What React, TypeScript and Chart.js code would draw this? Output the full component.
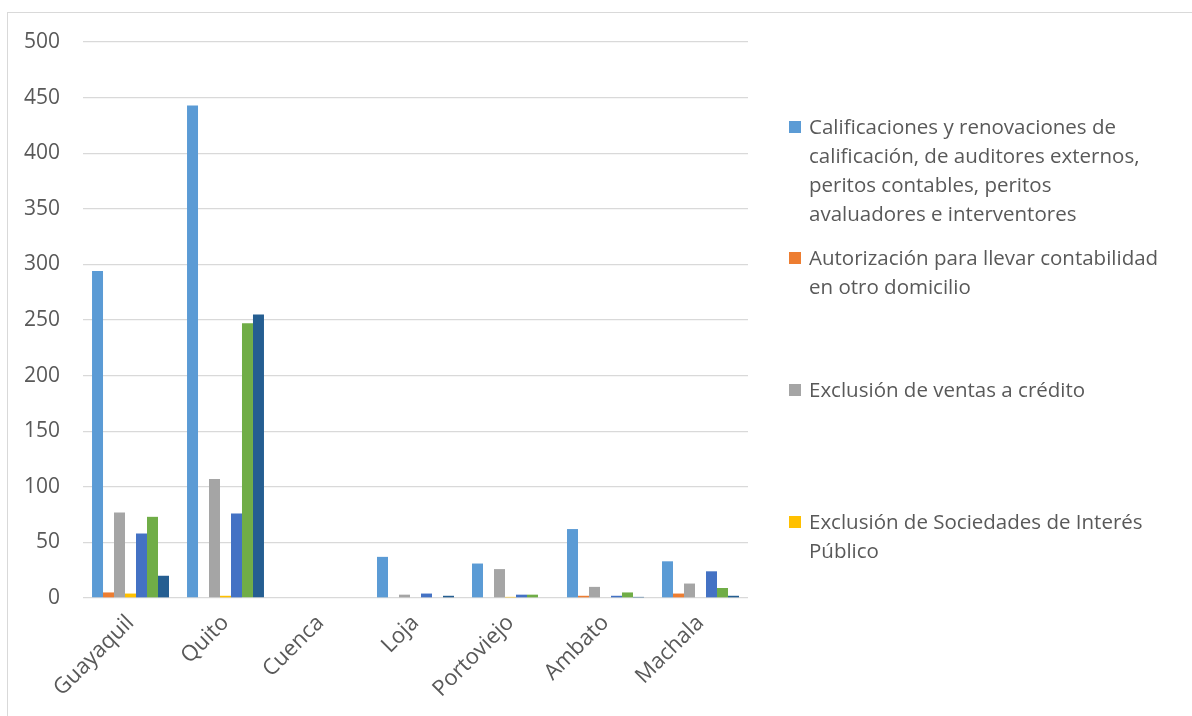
import React, { useEffect, useRef } from "react";
import { Chart, registerables } from "chart.js";

Chart.register(...registerables);

const cities = ["Guayaquil", "Quito", "Cuenca", "Loja", "Portoviejo", "Ambato", "Machala"];

const calificaciones = [294, 443, 0, 37, 31, 62, 33];
const autorizacion = [5, 0, 0, 0, 0, 2, 4];
const exclusionVentas = [77, 107, 0, 3, 26, 10, 13];
const exclusionSociedades = [4, 2, 0, 0, 1, 0, 0];
const serie5 = [58, 76, 0, 4, 3, 2, 24];
const serie6 = [73, 247, 0, 0, 3, 5, 9];
const serie7 = [20, 255, 0, 2, 0, 1, 2];

const seriesNames = [
  "Calificaciones y renovaciones de calificación, de auditores externos, peritos contables, peritos avaluadores e interventores",
  "Autorización para llevar contabilidad en otro domicilio",
  "Exclusión de ventas a crédito",
  "Exclusión de Sociedades de Interés Público",
  "Serie 5",
  "Serie 6",
  "Serie 7",
];

const legendLines = [
  ["Calificaciones y renovaciones de", "calificación, de auditores externos,", "peritos contables, peritos", "avaluadores e interventores"],
  ["Autorización para llevar contabilidad", "en otro domicilio"],
  ["Exclusión de ventas a crédito"],
  ["Exclusión de Sociedades de Interés", "Público"],
];

const yTicks = [0, 50, 100, 150, 200, 250, 300, 350, 400, 450, 500];

const colors = ["#5B9BD5", "#ED7D31", "#A5A5A5", "#FFC000", "#4472C4", "#70AD47", "#255E91"];

const FONT = "'Open Sans', 'Noto Sans', sans-serif";
const TEXT = "#595959";

export default function App() {
  const ref = useRef<HTMLCanvasElement | null>(null);

  useEffect(() => {
    if (!ref.current) return;
    const values = [calificaciones, autorizacion, exclusionVentas, exclusionSociedades, serie5, serie6, serie7];
    const chart = new Chart(ref.current, {
      type: "bar",
      data: {
        labels: cities,
        datasets: values.map((v, i) => ({
          label: seriesNames[i],
          data: v,
          backgroundColor: colors[i],
          borderWidth: 0,
          categoryPercentage: 0.81,
          barPercentage: 1,
        })),
      },
      options: {
        animation: false,
        responsive: false,
        maintainAspectRatio: false,
        layout: { padding: { left: 0, top: 42, right: 444, bottom: 0 } },
        plugins: { legend: { display: false }, tooltip: { enabled: false } },
        scales: {
          x: {
            grid: { display: false },
            border: { display: false },
            ticks: {
              color: TEXT,
              font: { family: FONT, size: 22 },
              minRotation: 45,
              maxRotation: 45,
              padding: 4,
            },
            afterFit: (s: any) => {
              s.height = 118;
            },
          },
          y: {
            min: 0,
            max: 500,
            afterBuildTicks: (s: any) => {
              s.ticks = yTicks.map((v) => ({ value: v }));
            },
            grid: { color: "#d9d9d9", lineWidth: 1.3, drawTicks: false },
            border: { display: false },
            ticks: {
              color: TEXT,
              font: { family: FONT, size: 21 },
              padding: 23,
            },
            afterFit: (s: any) => {
              s.width = 83;
            },
          },
        },
      },
    });
    return () => chart.destroy();
  }, []);

  const legendTops = [112, 243, 375, 507];

  return (
    <div style={{ position: "fixed", left: 0, top: 0, width: 1192, height: 716, background: "#fff", overflow: "hidden" }}>
      <div
        style={{
          position: "absolute",
          left: 7,
          top: 12,
          width: 1200,
          height: 720,
          borderTop: "1.5px solid #d9d9d9",
          borderLeft: "1.5px solid #d9d9d9",
          boxSizing: "border-box",
        }}
      />
      <canvas ref={ref} width={1192} height={716} style={{ position: "absolute", left: 0, top: 0, width: 1192, height: 716 }} />
      {legendLines.map((lines, i) => (
        <div key={i} style={{ position: "absolute", left: 789, top: legendTops[i], fontFamily: FONT, fontSize: 20.5, color: TEXT, lineHeight: "29px" }}>
          <div style={{ position: "absolute", left: 0, top: 9, width: 12, height: 12, background: colors[i] }} />
          <div style={{ marginLeft: 20, whiteSpace: "nowrap" }}>
            {lines.map((l, j) => (
              <div key={j}>{l}</div>
            ))}
          </div>
        </div>
      ))}
    </div>
  );
}
